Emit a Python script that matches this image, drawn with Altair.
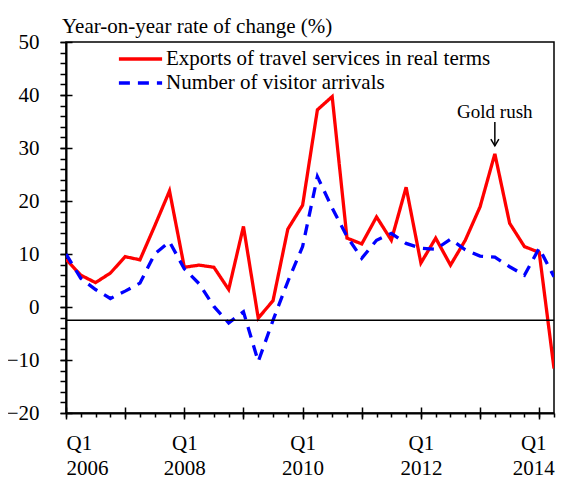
import altair as alt
import pandas as pd

# quarter index: 0 = 2006 Q1 ... 33 = 2014 Q2
quarters = list(range(34))
exports = [9.0, 6.0, 4.6, 6.4, 9.5, 8.9, 15.3, 21.9, 7.5, 7.9, 7.5, 3.3, 15.2, -2.1,
           1.2, 14.7, 19.2, 37.2, 39.7, 13.0, 11.9, 17.0, 12.6, 22.6, 8.3, 13.0, 7.9,
           12.6, 18.9, 28.9, 15.8, 11.4, 10.3, -11.6]
arrivals = [10.0, 5.4, 3.3, 1.6, 3.0, 4.5, 10.0, 12.3, 7.2, 4.4, 0.1, -3.0, -0.9, -10.3,
            -2.5, 4.8, 11.4, 24.6, 18.7, 13.3, 9.2, 12.6, 13.9, 12.0, 11.1, 10.9, 12.8,
            10.8, 9.6, 9.4, 7.6, 6.0, 11.1, 5.7]
series_names = ["Exports of travel services in real terms", "Number of visitor arrivals"]
series_colors = ["#ff0000", "#0000ff"]
ref_line = [-2.5]
annot_q = [29]
annot_text = ["Gold rush"]
annot_text_y = [35.7]
arrow_top = [34.9]
arrow_tip = [30.4]
major_x = [0, 4, 8, 12, 16, 20, 24, 28, 32]
minor_x = list(range(34))
major_y = [-20, -10, 0, 10, 20, 30, 40, 50]
minor_y = list(range(-20, 51, 2))

FONT = "Liberation Serif"

df = pd.DataFrame({
    "q": quarters * 2,
    "value": exports + arrivals,
    "series": [series_names[0]] * len(quarters) + [series_names[1]] * len(quarters),
})

xs = alt.Scale(domain=[0, 33], nice=False, zero=False)
ys = alt.Scale(domain=[-20, 50], nice=False, zero=False)

common_axis = dict(grid=False, title=None, tickColor="black", tickWidth=1.5,
                   domainColor="black", domainWidth=2, labelColor="black",
                   labelFont=FONT, labelFontSize=21)

x_main = alt.Axis(values=major_x, orient="bottom", tickSize=6, labelPadding=13,
                  labelLineHeight=25,
                  labelOffset={"condition": {"test": "datum.value == 32", "value": -6},
                               "value": 0},
                  labelExpr="datum.value % 8 == 0 ? ['Q1', '' + (2006 + datum.value / 4)] : ''",
                  **common_axis)
y_main = alt.Axis(values=major_y, orient="left", tickSize=6, labelPadding=21,
                  **common_axis)
x_minor = alt.Axis(values=minor_x, orient="bottom", tickSize=4, labels=False,
                   domain=False, grid=False, title=None, tickColor="black", tickWidth=1.5)
y_minor = alt.Axis(values=minor_y, orient="left", tickSize=6, labels=False,
                   domain=False, grid=False, title=None, tickColor="black", tickWidth=1.5)
x_inner = alt.Axis(values=major_x, orient="bottom", tickSize=6, offset=-6, labels=False,
                   domain=False, grid=False, title=None, tickColor="black", tickWidth=1.5)
y_inner = alt.Axis(values=major_y, orient="left", tickSize=6, offset=-6, labels=False,
                   domain=False, grid=False, title=None, tickColor="black", tickWidth=1.5)

leg = alt.Legend(title=None, orient="none", legendX=60.5, legendY=3, padding=0,
                 symbolType="M-1.8,0L1.8,0", symbolSize=576, symbolStrokeWidth=3.3,
                 labelFont=FONT, labelFontSize=21, labelColor="black", labelOffset=11.5,
                 rowPadding=0, labelLimit=0)

lines = alt.Chart(df).mark_line(strokeWidth=3.3, clip=True).encode(
    x=alt.X("q:Q", scale=xs, axis=x_main),
    y=alt.Y("value:Q", scale=ys, axis=y_main),
    color=alt.Color("series:N", scale=alt.Scale(domain=series_names, range=series_colors),
                    legend=leg, sort=series_names),
    strokeDash=alt.StrokeDash("series:N",
                              scale=alt.Scale(domain=series_names, range=[[1, 0], [11, 8]]),
                              legend=leg, sort=series_names),
)

ref = alt.Chart(pd.DataFrame({"y": ref_line})).mark_rule(color="black", strokeWidth=1.5).encode(
    y=alt.Y("y:Q", scale=ys, axis=None)
)

adf = pd.DataFrame({"q": annot_q, "text": annot_text, "ty": annot_text_y,
                    "top": arrow_top, "tip": arrow_tip})

label = alt.Chart(adf).mark_text(font=FONT, fontSize=19, color="black",
                                 baseline="alphabetic", align="center").encode(
    x=alt.X("q:Q", scale=xs, axis=x_minor),
    y=alt.Y("ty:Q", scale=ys, axis=y_minor),
    text="text:N",
)

arrow = alt.Chart(adf).mark_rule(color="black", strokeWidth=1.5).encode(
    x=alt.X("q:Q", scale=xs, axis=x_inner),
    y=alt.Y("top:Q", scale=ys, axis=y_inner),
    y2="tip:Q",
)

head = alt.Chart(adf).mark_point(shape="M-1,-1.7L0,0L1,-1.7", size=64, filled=False,
                                 stroke="black", strokeWidth=1.5, opacity=1).encode(
    x=alt.X("q:Q", scale=xs, axis=None),
    y=alt.Y("tip:Q", scale=ys, axis=None),
)

chart = alt.layer(lines, ref, label, arrow, head).resolve_axis(
    x="independent", y="independent"
).properties(
    width=488, height=371,
    title=alt.TitleParams("Year-on-year rate of change (%)", anchor="start", frame="group",
                          font=FONT, fontSize=21, fontWeight="normal", color="black",
                          offset=8, dx=-4, dy=14),
    autosize=alt.AutoSizeParams(type="none"),
    padding={"left": 58, "top": 34, "right": 2, "bottom": 66},
).configure(font=FONT).configure_view(stroke="black", strokeWidth=1.5).configure_axis(
    labelFont=FONT
).configure_legend(labelFont=FONT).configure_title(font=FONT)

chart.save("out.html", embed_options={"renderer": "svg", "actions": False})
